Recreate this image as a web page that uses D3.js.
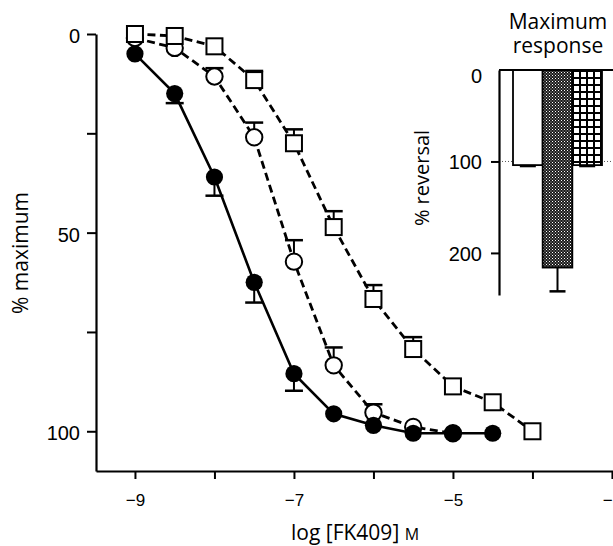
<!DOCTYPE html>
<html>
<head>
<meta charset="utf-8">
<script src="https://cdn.jsdelivr.net/npm/d3@7/dist/d3.min.js"></script>
<style>
  html, body { margin: 0; padding: 0; background: #fff; }
  svg { display: block; font-family: "Open Sans", sans-serif; }
</style>
</head>
<body>
<svg id="chart" width="613" height="546"></svg>
<script>
// ---------- data ----------
const logConc = [-9, -8.5, -8, -7.5, -7, -6.5, -6, -5.5, -5, -4.5, -4];
const filledVals = [5, 15, 36, 62.5, 85.5, 95.6, 98.5, 100.5, 100.5, 100.5, null];
const filledErr  = [0, 2.4, 4.7, 5.1, 4.3, 0, 0, 0, 0, 0, null];
const openVals   = [1, 3.5, 10.7, 26, 57.3, 83.4, 95.3, 98.9, 100.5, null, null];
const openErr    = [0, 0, 2.1, 3.7, 5.4, 4.5, 2.1, 0, 0, null, null];
const squareVals = [0, 0.5, 3.1, 11.6, 27.5, 48.6, 66.7, 79.3, 88.7, 92.7, 100];
const squareErr  = [0, 0, 0, 2.3, 3.5, 4, 3.5, 3, 0, 0, 0];

const xTickValues = [-9, -8, -7, -6, -5, -4, -3];
const xTickLabels = ["\u22129", "", "\u22127", "", "\u22125", "", "\u22123"];
const yTickValues = [0, 25, 50, 75, 100];
const yTickLabels = ["0", "", "50", "", "100"];

const insetBars = ["bar1", "bar2", "bar3"];
const insetVals = [104, 216, 104];
const insetErr  = [1, 26, 1];
const insetTickValues = [0, 100, 200];
const insetTickLabels = ["0", "100", "200"];

// ---------- setup ----------
const svg = d3.select("#chart");
const defs = svg.append("defs");

// stipple pattern (dark halftone)
const stip = defs.append("pattern").attr("id", "stipple")
  .attr("patternUnits", "userSpaceOnUse").attr("width", 3).attr("height", 3);
stip.append("rect").attr("width", 3).attr("height", 3).attr("fill", "#1a1a1a");
stip.append("rect").attr("x", 0).attr("y", 0).attr("width", 1).attr("height", 1).attr("fill", "#fff");
stip.append("rect").attr("x", 1.5).attr("y", 1.5).attr("width", 1).attr("height", 1).attr("fill", "#ccc");

// grid pattern
const grid = defs.append("pattern").attr("id", "grid")
  .attr("patternUnits", "userSpaceOnUse").attr("width", 7).attr("height", 7)
  .attr("x", 572).attr("y", 70);
grid.append("rect").attr("width", 7).attr("height", 7).attr("fill", "#000");
grid.append("rect").attr("x", 2).attr("y", 2).attr("width", 5).attr("height", 5).attr("fill", "#fff");

// ---------- main chart ----------
const x = d3.scaleLinear().domain([-9.49, -2.5]).range([96, 651.7]);
const y = d3.scaleLinear().domain([0, 110]).range([34, 471]);

const xAxis = d3.axisBottom(x).tickValues(xTickValues)
  .tickFormat((d, i) => xTickLabels[i]).tickSize(8).tickSizeOuter(0).tickPadding(15);
const gx = svg.append("g").attr("transform", `translate(0,${y(110)})`).call(xAxis);
gx.select(".domain").attr("stroke-width", 2.2);
gx.selectAll(".tick line").attr("stroke-width", 2);
gx.selectAll(".tick text").attr("font-size", 17).attr("fill", "#000");

const yAxis = d3.axisLeft(y).tickValues(yTickValues)
  .tickFormat((d, i) => yTickLabels[i]).tickSize(9).tickSizeOuter(0).tickPadding(7);
const gy = svg.append("g").attr("transform", `translate(${x(-9.49)},0)`).call(yAxis);
gy.select(".domain").attr("stroke-width", 2.2);
gy.selectAll(".tick line").attr("stroke-width", 2);
gy.selectAll(".tick text").attr("font-size", 20).attr("fill", "#000").attr("dy", "0.42em");

// axis titles
const xt = svg.append("text").attr("x", 291).attr("y", 540).attr("font-size", 21).attr("fill", "#000");
xt.append("tspan").text("log [FK409] ");
xt.append("tspan").attr("font-size", 16).text("M");

svg.append("text")
  .attr("transform", `translate(28,253) rotate(-90)`)
  .attr("text-anchor", "middle").attr("font-size", 21).attr("fill", "#000")
  .text("% maximum");

function series(vals, errs, dir) {
  return logConc.map((c, i) => ({ c, v: vals[i], e: errs[i], dir }))
    .filter(d => d.v !== null && d.v !== undefined);
}
const sq = series(squareVals, squareErr, -1);
const op = series(openVals, openErr, -1);
const fi = series(filledVals, filledErr, 1);

const line = d3.line().x(d => x(d.c)).y(d => y(d.v));

function drawErr(data) {
  const g = svg.append("g").attr("stroke", "#000").attr("stroke-width", 2);
  data.filter(d => d.e > 0).forEach(d => {
    const y0 = y(d.v), y1 = y(d.v + d.dir * d.e);
    g.append("line").attr("x1", x(d.c)).attr("x2", x(d.c)).attr("y1", y0).attr("y2", y1);
    g.append("line").attr("x1", x(d.c) - 9).attr("x2", x(d.c) + 9).attr("y1", y1).attr("y2", y1)
      .attr("stroke-width", 2.5);
  });
}

// open circles series
drawErr(op);
svg.append("path").datum(op).attr("d", line).attr("fill", "none")
  .attr("stroke", "#000").attr("stroke-width", 2.8).attr("stroke-dasharray", "8,4.5");
svg.append("g").selectAll("circle").data(op).join("circle")
  .attr("cx", d => x(d.c)).attr("cy", d => y(d.v)).attr("r", 8.2)
  .attr("fill", "#fff").attr("stroke", "#000").attr("stroke-width", 2);

// squares series
drawErr(sq);
svg.append("path").datum(sq).attr("d", line).attr("fill", "none")
  .attr("stroke", "#000").attr("stroke-width", 2.8).attr("stroke-dasharray", "8,4.5");
svg.append("g").selectAll("rect").data(sq).join("rect")
  .attr("x", d => x(d.c) - 8).attr("y", d => y(d.v) - 8)
  .attr("width", 16).attr("height", 16)
  .attr("fill", "#fff").attr("stroke", "#000").attr("stroke-width", 2);

// filled circles series
drawErr(fi);
svg.append("path").datum(fi).attr("d", line).attr("fill", "none")
  .attr("stroke", "#000").attr("stroke-width", 2.6);
svg.append("g").selectAll("circle").data(fi).join("circle")
  .attr("cx", d => x(d.c)).attr("cy", d => y(d.v)).attr("r", 8.6)
  .attr("fill", "#000");

// ---------- inset ----------
const iy = d3.scaleLinear().domain([0, 246]).range([70, 295]);
const ix = d3.scaleBand().domain(insetBars).range([513, 602]).paddingInner(0);
const axX = 499;

// reference dotted line at 100
svg.append("line").attr("x1", axX).attr("x2", 613).attr("y1", iy(100)).attr("y2", iy(100))
  .attr("stroke", "#555").attr("stroke-width", 1).attr("stroke-dasharray", "1,2");

const fills = ["#fff", "url(#stipple)", "url(#grid)"];
svg.append("g").selectAll("rect").data(insetBars).join("rect")
  .attr("x", d => ix(d)).attr("y", iy(0))
  .attr("width", ix.bandwidth())
  .attr("height", (d, i) => iy(insetVals[i]) - iy(0))
  .attr("fill", (d, i) => fills[i])
  .attr("stroke", "#000").attr("stroke-width", 1.8);

// inset error bars
const ieg = svg.append("g").attr("stroke", "#000");
insetBars.forEach((b, i) => {
  const cx = ix(b) + ix.bandwidth() / 2;
  const y0 = iy(insetVals[i]), y1 = iy(insetVals[i] + insetErr[i]);
  ieg.append("line").attr("x1", cx).attr("x2", cx).attr("y1", y0).attr("y2", y1).attr("stroke-width", 2);
  ieg.append("line").attr("x1", cx - 8).attr("x2", cx + 8).attr("y1", y1).attr("y2", y1).attr("stroke-width", 2.5);
});

// top baseline
svg.append("line").attr("x1", axX).attr("x2", 613).attr("y1", iy(0)).attr("y2", iy(0))
  .attr("stroke", "#000").attr("stroke-width", 2);

const iAxis = d3.axisLeft(iy).tickValues(insetTickValues)
  .tickFormat((d, i) => insetTickLabels[i]).tickSize(8).tickSizeOuter(0).tickPadding(9);
const giy = svg.append("g").attr("transform", `translate(${axX},0)`).call(iAxis);
giy.select(".domain").attr("stroke-width", 2.2);
giy.selectAll(".tick line").attr("stroke-width", 2).attr("opacity", d => d === 0 ? 0 : 1);
giy.selectAll(".tick text").attr("font-size", 20).attr("fill", "#000")
  .attr("dy", d => d === 0 ? "0.62em" : "0.36em");

svg.append("text")
  .attr("transform", `translate(429,178) rotate(-90)`)
  .attr("text-anchor", "middle").attr("font-size", 20).attr("fill", "#000")
  .text("% reversal");

const title = svg.append("text").attr("text-anchor", "middle").attr("font-size", 21).attr("fill", "#000");
title.append("tspan").attr("x", 558).attr("y", 29).text("Maximum");
title.append("tspan").attr("x", 558).attr("y", 53).text("response");
</script>
</body>
</html>
